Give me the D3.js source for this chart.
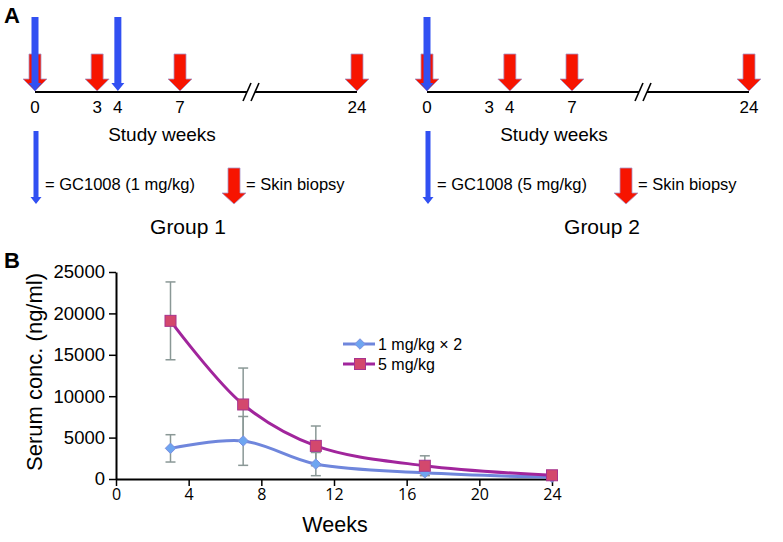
<!DOCTYPE html>
<html>
<head>
<meta charset="utf-8">
<script src="https://cdn.jsdelivr.net/npm/d3@7"></script>
<style>
  body { margin: 0; background: #fff; }
  svg { display: block; font-family: "Liberation Sans", Arial, sans-serif; }
</style>
</head>
<body>
<script>
// ---- panel A: study timeline ----
var timelineTicks = [0, 3, 4, 7, 24];
var group1Doses = [0, 4];
var group1Biopsies = [0, 3, 7, 24];
var group2Doses = [0];
var group2Biopsies = [0, 4, 7, 24];

// ---- panel B: serum concentration ----
var weeks = [3, 7, 11, 17, 24];
var low = [3700, 4600, 1800, 750, 200];      // 1 mg/kg x 2
var lowErr = [1650, 2950, 1400, 300, 150];
var high = [19100, 9000, 4000, 1600, 450];   // 5 mg/kg
var highErr = [4700, 4400, 2400, 1200, 150];
var xTicks = [0, 4, 8, 12, 16, 20, 24];
var yTicks = [0, 5000, 10000, 15000, 20000, 25000];

var width = 783, height = 542;
var svg = d3.select("body").append("svg")
    .attr("width", width)
    .attr("height", height);

var BLUE = "#3150f2", RED = "#f71400";

// arrow pointing down, tip at (x, yTip)
function arrow(g, x, yTop, yTip, shaftW, headW, headH, fill, stroke) {
  var hs = shaftW / 2, hh = headW / 2, yh = yTip - headH;
  var pts = [[x - hs, yTop], [x + hs, yTop], [x + hs, yh], [x + hh, yh],
             [x, yTip], [x - hh, yh], [x - hs, yh]];
  g.append("path")
    .attr("d", "M" + pts.join("L") + "Z")
    .attr("fill", fill)
    .attr("stroke", stroke || "none")
    .attr("stroke-width", 0.8);
}

// timeline scale: broken axis between 7 and 24
var tl = d3.scaleLinear().domain([0, 7, 24]).range([0, 145, 322]);
var lineY = 92;

function timeline(x0, doses, biopsies, doseLabel, groupLabel) {
  var g = svg.append("g").attr("transform", "translate(" + x0 + ",0)");
  var bx = 216; // break position
  g.append("line").attr("x1", tl(0)).attr("x2", bx - 4)
    .attr("y1", lineY).attr("y2", lineY).attr("stroke", "#000").attr("stroke-width", 2);
  g.append("line").attr("x1", bx + 4).attr("x2", tl(24))
    .attr("y1", lineY).attr("y2", lineY).attr("stroke", "#000").attr("stroke-width", 2);
  [-4, 4].forEach(function(o) {
    g.append("line")
      .attr("x1", bx + o - 4).attr("y1", lineY + 9)
      .attr("x2", bx + o + 4).attr("y2", lineY - 9)
      .attr("stroke", "#000").attr("stroke-width", 1.6);
  });

  g.selectAll("text.tick").data(timelineTicks).enter().append("text")
    .attr("class", "tick")
    .attr("x", function(d) { return tl(d); })
    .attr("y", 113)
    .attr("text-anchor", "middle")
    .style("font-size", "17px")
    .text(function(d) { return d; });

  biopsies.forEach(function(d) {
    arrow(g, tl(d), 54, 91, 12, 24, 12, RED, "#a796c8");
  });
  doses.forEach(function(d) {
    arrow(g, tl(d), 17, 91, 7, 13, 8, BLUE);
  });

  g.append("text").attr("x", 127).attr("y", 141)
    .attr("text-anchor", "middle").style("font-size", "19px")
    .text("Study weeks");

  // legend
  arrow(g, 1, 131, 204, 5, 11, 7, BLUE);
  g.append("text").attr("x", 10).attr("y", 190)
    .style("font-size", "16.5px").text(doseLabel);
  arrow(g, 199, 168, 204, 12, 24, 11, RED, "#a796c8");
  g.append("text").attr("x", 211).attr("y", 190)
    .style("font-size", "16.5px").text("= Skin biopsy");

  g.append("text").attr("x", 153 + (x0 > 100 ? 22 : 0)).attr("y", 234)
    .attr("text-anchor", "middle").style("font-size", "21px")
    .text(groupLabel);
}

svg.append("text").attr("x", 4).attr("y", 23)
  .style("font-size", "22px").style("font-weight", "bold").text("A");

timeline(35, group1Doses, group1Biopsies, "= GC1008 (1 mg/kg)", "Group 1");
timeline(427, group2Doses, group2Biopsies, "= GC1008 (5 mg/kg)", "Group 2");

// ---- panel B ----
svg.append("text").attr("x", 4).attr("y", 268)
  .style("font-size", "22px").style("font-weight", "bold").text("B");

var x = d3.scaleLinear().domain([0, 24]).range([116, 552]);
var y = d3.scaleLinear().domain([0, 25000]).range([479, 272]);

var yAxis = svg.append("g")
  .attr("transform", "translate(" + x(0) + ",0)")
  .call(d3.axisLeft(y).tickValues(yTicks).tickFormat(d3.format("d"))
    .tickSize(7).tickSizeOuter(0).tickPadding(4));
yAxis.selectAll("text").style("font-size", "18.5px")
  .style("font-family", "'Liberation Sans', Arial, sans-serif").attr("fill", "#000");

var xAxis = svg.append("g")
  .attr("transform", "translate(0," + y(0) + ")")
  .call(d3.axisBottom(x).tickValues(xTicks).tickSize(7).tickSizeOuter(0).tickPadding(3));
xAxis.selectAll("text").style("font-size", "16px")
  .style("font-family", "'Open Sans', sans-serif").attr("fill", "#000");

[yAxis, xAxis].forEach(function(a) {
  a.select(".domain").attr("stroke", "#000").attr("stroke-width", 2);
  a.selectAll(".tick line").attr("stroke", "#000").attr("stroke-width", 1.5);
});

svg.append("text")
  .attr("transform", "translate(42," + 372 + ") rotate(-90)")
  .attr("text-anchor", "middle")
  .style("font-size", "22px")
  .text("Serum conc. (ng/ml)");

svg.append("text").attr("x", 335).attr("y", 532)
  .attr("text-anchor", "middle").style("font-size", "21.5px").text("Weeks");

var series = [
  {name: "1 mg/kg \u00d7 2", vals: low, err: lowErr, line: "#6f86dc", fill: "#6ea5f0", stroke: "#7d90e0", shape: "diamond"},
  {name: "5 mg/kg", vals: high, err: highErr, line: "#a1259c", fill: "#d3486d", stroke: "#a8338e", shape: "square"}
];

// error bars
series.forEach(function(s) {
  var eg = svg.append("g").attr("stroke", "#8a9896").attr("stroke-width", 1.5);
  weeks.forEach(function(w, i) {
    var cx = x(w), top = y(s.vals[i] + s.err[i]), bot = y(Math.max(0, s.vals[i] - s.err[i]));
    eg.append("line").attr("x1", cx).attr("x2", cx).attr("y1", top).attr("y2", bot);
    eg.append("line").attr("x1", cx - 5).attr("x2", cx + 5).attr("y1", top).attr("y2", top);
    eg.append("line").attr("x1", cx - 5).attr("x2", cx + 5).attr("y1", bot).attr("y2", bot);
  });
});

var line = d3.line()
  .x(function(d) { return x(d[0]); })
  .y(function(d) { return y(d[1]); })
  .curve(d3.curveCatmullRom.alpha(0.5));

series.forEach(function(s) {
  svg.append("path")
    .datum(weeks.map(function(w, i) { return [w, s.vals[i]]; }))
    .attr("d", line)
    .attr("fill", "none")
    .attr("stroke", s.line)
    .attr("stroke-width", 3);
});

var diamond = d3.symbol().type(d3.symbolDiamond2).size(70);
function marker(g, s, cx, cy) {
  if (s.shape === "square") {
    g.append("rect").attr("x", cx - 5.5).attr("y", cy - 5.5)
      .attr("width", 11).attr("height", 11)
      .attr("fill", s.fill).attr("stroke", s.stroke).attr("stroke-width", 1);
  } else {
    g.append("path").attr("d", diamond)
      .attr("transform", "translate(" + cx + "," + cy + ")")
      .attr("fill", s.fill).attr("stroke", s.stroke).attr("stroke-width", 1);
  }
}

series.forEach(function(s) {
  var mg = svg.append("g");
  weeks.forEach(function(w, i) { marker(mg, s, x(w), y(s.vals[i])); });
});

// legend
series.forEach(function(s, i) {
  var ly = 344 + i * 20;
  svg.append("line").attr("x1", 343).attr("x2", 375).attr("y1", ly).attr("y2", ly)
    .attr("stroke", s.line).attr("stroke-width", 3);
  marker(svg, s, 360, ly);
  svg.append("text").attr("x", 378).attr("y", ly + 6)
    .style("font-size", "16px").text(s.name);
});
</script>
</body>
</html>
